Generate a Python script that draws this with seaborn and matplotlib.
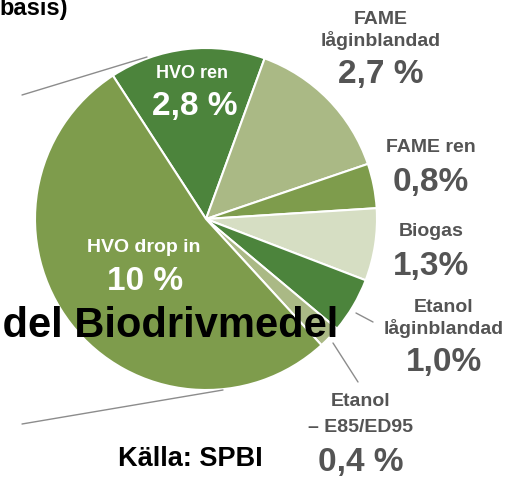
import matplotlib
matplotlib.use("Agg")
import matplotlib.pyplot as plt
import seaborn as sns

# andel biodrivmedel per typ (procent)
typer = ["HVO ren", "FAME låginblandad", "FAME ren", "Biogas",
         "Etanol låginblandad", "Etanol – E85/ED95", "HVO drop in"]
andelar = [2.8, 2.7, 0.8, 1.3, 1.0, 0.4, 10.0]
etiketter = ["2,8 %", "2,7 %", "0,8%", "1,3%", "1,0%", "0,4 %", "10 %"]
farger = ["#4c843c", "#aab985", "#7e9c4c", "#d6dec3",
          "#4c843c", "#aab985", "#7e9c4c"]

sns.set_style("white")
plt.rcParams["font.family"] = ["Liberation Sans", "DejaVu Sans"]

W, H = 514, 480
fig = plt.figure(figsize=(W / 100, H / 100), dpi=100)
ax = fig.add_axes([0, 0, 1, 1])


def Y(y):
    return H - y


ax.pie(andelar, colors=farger, startangle=123, counterclock=False,
       center=(206, Y(219)), radius=171,
       wedgeprops=dict(edgecolor="white", linewidth=1.5))

ax.set_xlim(0, W)
ax.set_ylim(0, H)
ax.set_aspect("equal")
ax.axis("off")

# hjälplinjer
gra = "#8c8c8c"
ax.plot([22, 147], [Y(95), Y(57)], color=gra, lw=1)
ax.plot([22, 223], [Y(424), Y(390)], color=gra, lw=1)
ax.plot([356, 373], [Y(313), Y(322)], color=gra, lw=1)
ax.plot([333, 358], [Y(343), Y(382)], color=gra, lw=1)

# etiketter inne i tårtan
vit = "white"
ax.text(192, Y(73), "HVO ren", color=vit, fontsize=13, fontweight="bold",
        ha="center", va="center")
ax.text(195, Y(107), etiketter[0], color=vit, fontsize=24, fontweight="bold",
        ha="center", va="center")
ax.text(144, Y(247), "HVO drop in", color=vit, fontsize=14, fontweight="bold",
        ha="center", va="center")
ax.text(145, Y(282), etiketter[6], color=vit, fontsize=24, fontweight="bold",
        ha="center", va="center")

# etiketter utanför
grå_text = "#545454"
def etikett(x, rader, y_rader, pct, y_pct):
    for r, yy in zip(rader, y_rader):
        ax.text(x, Y(yy), r, color=grå_text, fontsize=14, fontweight="bold",
                ha="center", va="center")
    ax.text(x, Y(y_pct), pct, color=grå_text, fontsize=24, fontweight="bold",
            ha="center", va="center")

etikett(381, ["FAME", "låginblandad"], [20, 40], etiketter[1], 75)
etikett(431, ["FAME ren"], [147], etiketter[2], 182)
etikett(431, ["Biogas"], [232], etiketter[3], 266)
etikett(444, ["Etanol", "låginblandad"], [307, 328], etiketter[4], 362)
etikett(361, ["Etanol", "– E85/ED95"], [401, 427], etiketter[5], 462)

# rubriker
ax.text(68, Y(15), "basis)", color="black", fontsize=17, fontweight="bold",
        ha="right", va="baseline")
ax.text(338, Y(337), "Andel Biodrivmedel", color="black", fontsize=30,
        fontweight="bold", ha="right", va="baseline")
ax.text(190, Y(466), "Källa: SPBI", color="black", fontsize=19.5,
        fontweight="bold", ha="center", va="baseline")

fig.savefig("out.png", dpi=100)
